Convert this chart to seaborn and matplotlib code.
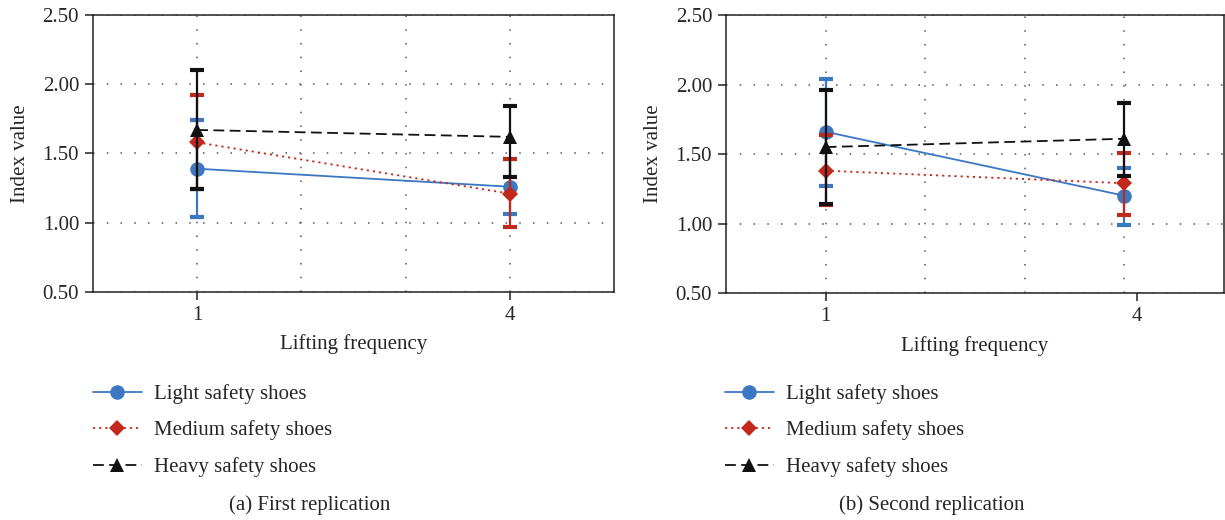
import numpy as np
import pandas as pd
import seaborn as sns
import matplotlib.pyplot as plt

# 데이터
freq = [1, 4]
shoes = ["Light safety shoes", "Medium safety shoes", "Heavy safety shoes"]

# (a) First replication
first_mean = {"Light safety shoes": [1.39, 1.26],
              "Medium safety shoes": [1.58, 1.21],
              "Heavy safety shoes": [1.67, 1.62]}
first_lo = {"Light safety shoes": [1.04, 1.06],
            "Medium safety shoes": [1.24, 0.97],
            "Heavy safety shoes": [1.24, 1.33]}
first_hi = {"Light safety shoes": [1.74, 1.46],
            "Medium safety shoes": [1.92, 1.46],
            "Heavy safety shoes": [2.10, 1.84]}

# (b) Second replication
second_mean = {"Light safety shoes": [1.66, 1.20],
               "Medium safety shoes": [1.38, 1.29],
               "Heavy safety shoes": [1.55, 1.61]}
second_lo = {"Light safety shoes": [1.27, 0.99],
             "Medium safety shoes": [1.13, 1.06],
             "Heavy safety shoes": [1.14, 1.34]}
second_hi = {"Light safety shoes": [2.04, 1.40],
             "Medium safety shoes": [1.64, 1.51],
             "Heavy safety shoes": [1.96, 1.87]}

y_ticks = [0.50, 1.00, 1.50, 2.00, 2.50]
x_grid = [1, 2, 3, 4]

colors = {"Light safety shoes": "#3a78c1",
          "Medium safety shoes": "#c3281d",
          "Heavy safety shoes": "#111111"}
markers = {"Light safety shoes": "o",
           "Medium safety shoes": "D",
           "Heavy safety shoes": "^"}
msizes = {"Light safety shoes": 10.5, "Medium safety shoes": 8, "Heavy safety shoes": 10.5}
lstyles = {"Light safety shoes": "-",
           "Medium safety shoes": (0, (1.2, 2.2)),
           "Heavy safety shoes": (0, (6, 3))}

sns.set_style("white")
plt.rcParams['font.family'] = ['Liberation Serif', 'DejaVu Serif']
plt.rcParams['font.size'] = 14

FS = 15


def make_df(means, los, his):
    rows = []
    for s in shoes:
        for i, f in enumerate(freq):
            rows.append({"freq": f, "shoe": s, "mean": means[s][i],
                         "lo": los[s][i], "hi": his[s][i]})
    return pd.DataFrame(rows)


def draw(ax, df, tick4):
    for xg in x_grid:
        ax.axvline(xg, color="#555555", linestyle=(0, (1, 8)), linewidth=1.1, zorder=1)
    for k, s in enumerate(shoes):
        d = df[df["shoe"] == s]
        sns.lineplot(data=d, x="freq", y="mean", ax=ax, color=colors[s],
                     marker=markers[s], markersize=msizes[s], markeredgewidth=0,
                     linestyle=lstyles[s], linewidth=1.3, label=s,
                     zorder=3 + k * 2)
        ax.errorbar(d["freq"], d["mean"],
                    yerr=[d["mean"] - d["lo"], d["hi"] - d["mean"]],
                    fmt="none", ecolor=colors[s], elinewidth=1.6,
                    capsize=5.2, capthick=3, zorder=4 + k * 2)
    ax.set_xlim(0, 5)
    ax.set_ylim(0.5, 2.5)
    ax.set_yticks(y_ticks)
    ax.set_yticklabels([f"{v:.2f}" for v in y_ticks])
    ax.set_xticks([1, tick4])
    ax.set_xticklabels(["1", "4"])
    ax.grid(False)
    ax.grid(True, which="major", axis="y", color="#555555",
            linestyle=(0, (1, 8)), linewidth=1.1)
    ax.tick_params(axis="both", which="major", direction="out", length=6,
                   width=1.1, color="#222222", labelsize=FS, pad=4,
                   left=True, bottom=True)
    for sp in ax.spines.values():
        sp.set_visible(True)
        sp.set_color("#222222")
        sp.set_linewidth(1.1)
    ax.set_xlabel("Lifting frequency", fontsize=FS, labelpad=7)
    ax.set_ylabel("Index value", fontsize=FS, labelpad=9)
    ax.legend_.remove()


fig = plt.figure(figsize=(12.25, 5.2), dpi=100)
ax1 = fig.add_axes([0.0759, 0.4385, 0.4253, 0.5327])
ax2 = fig.add_axes([0.5927, 0.4365, 0.4065, 0.5346])

draw(ax1, make_df(first_mean, first_lo, first_hi), 4)
draw(ax2, make_df(second_mean, second_lo, second_hi), 4.13)

for ax, x0 in [(ax1, 93), (ax2, 725)]:
    h, l = ax.get_legend_handles_labels()
    fig.legend(h, l, loc="upper left", bbox_to_anchor=(x0 / 1225, 1 - 384 / 520),
               bbox_transform=fig.transFigure, frameon=False, fontsize=FS,
               borderaxespad=0, borderpad=0, labelspacing=0.8,
               handlelength=2.35, handletextpad=0.6)

fig.text(310 / 1225, 1 - 505 / 520, "(a) First replication", ha="center",
         va="center", fontsize=FS)
fig.text(932 / 1225, 1 - 505 / 520, "(b) Second replication", ha="center",
         va="center", fontsize=FS)

plt.savefig("out.png", dpi=100)
